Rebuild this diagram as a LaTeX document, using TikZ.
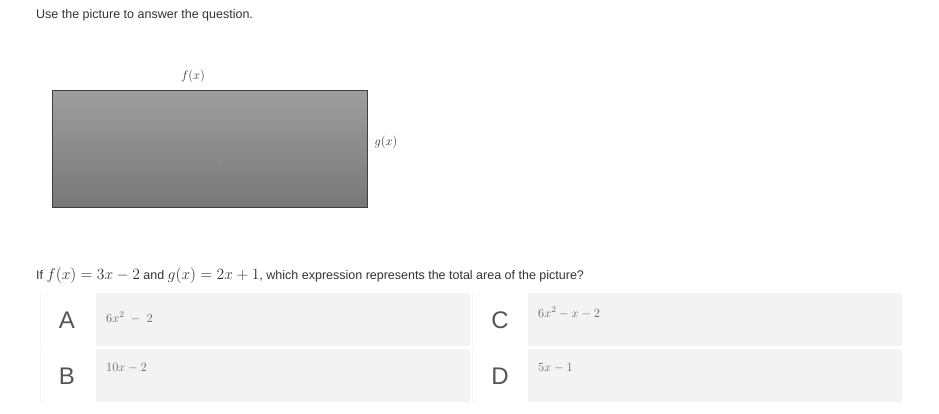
\RequirePackage{fix-cm}
\documentclass[tikz,border=0pt]{standalone}
\usepackage{fontspec}
\setmainfont{Liberation Sans}
\usetikzlibrary{positioning}
\definecolor{txtgray}{HTML}{333333}
\definecolor{optgray}{HTML}{F3F3F3}
\definecolor{lettergray}{HTML}{555555}
\definecolor{exprgray}{HTML}{666666}
\newcommand{\qmath}[1]{{\fontsize{15.6}{15}\selectfont$#1$}}

\begin{document}
\begin{tikzpicture}[x=1pt,y=-1pt,
  prompt/.style={anchor=base west, inner sep=0pt, text=txtgray,
    font=\fontsize{12.5}{15}\selectfont},
  sidelabel/.style={inner sep=0pt, text=txtgray, font=\fontsize{12.5}{14}\selectfont},
  letter/.style={inner sep=0pt, text=lettergray, font=\fontsize{24}{28}\selectfont},
  expr/.style={anchor=north west, inner sep=0pt, text=exprgray, font=\fontsize{12.5}{14}\selectfont}]

% Page size
\useasboundingbox (0,0) rectangle (939,413);
\fill[white] (0,0) rectangle (939,413);

% Instruction
\node[prompt] (intro) at (36,18) {Use the picture to answer the question.};

% Rectangle with gradient
\shade[top color=black!38, bottom color=black!53] (52,90) rectangle (367,207);
\draw[black!75, line width=0.8pt] (52,90) rectangle (367,207);
\draw[black!45, line width=0.4pt] (221,155) -- (221,167); % faint mark

% Side labels
\node[sidelabel] (flab) at (193,76) {$f(x)$};
\node[sidelabel] (glab) at (386,142) {$g(x)$};

% Question
\node[prompt] (question) at (36,279) {If \qmath{f(x)=3x-2} and \qmath{g(x)=2x+1}, which expression represents the total area of the picture?};

% Answer boxes
\foreach \bx/\by in {40/293, 40/349, 472/293, 472/349}{
  \fill[optgray] (\bx,\by) rectangle ++(430,53);
  \fill[white] (\bx+1,\by) rectangle ++(55,53);
}

% Letters
\node[letter] (A) at (67,320) {A};
\node[letter] (B) at (67,376) {B};
\node[letter] (C) at (500,320) {C};
\node[letter] (D) at (500,376) {D};

% Expressions
\node[expr] (exA) at (106,312) {$6x^2\ -\ 2$};
\node[expr] (exB) at (106,363) {$10x-2$};
\node[expr] (exC) at (538,307) {$6x^2-x-2$};
\node[expr] (exD) at (538,363) {$5x-1$};

\end{tikzpicture}
\end{document}
